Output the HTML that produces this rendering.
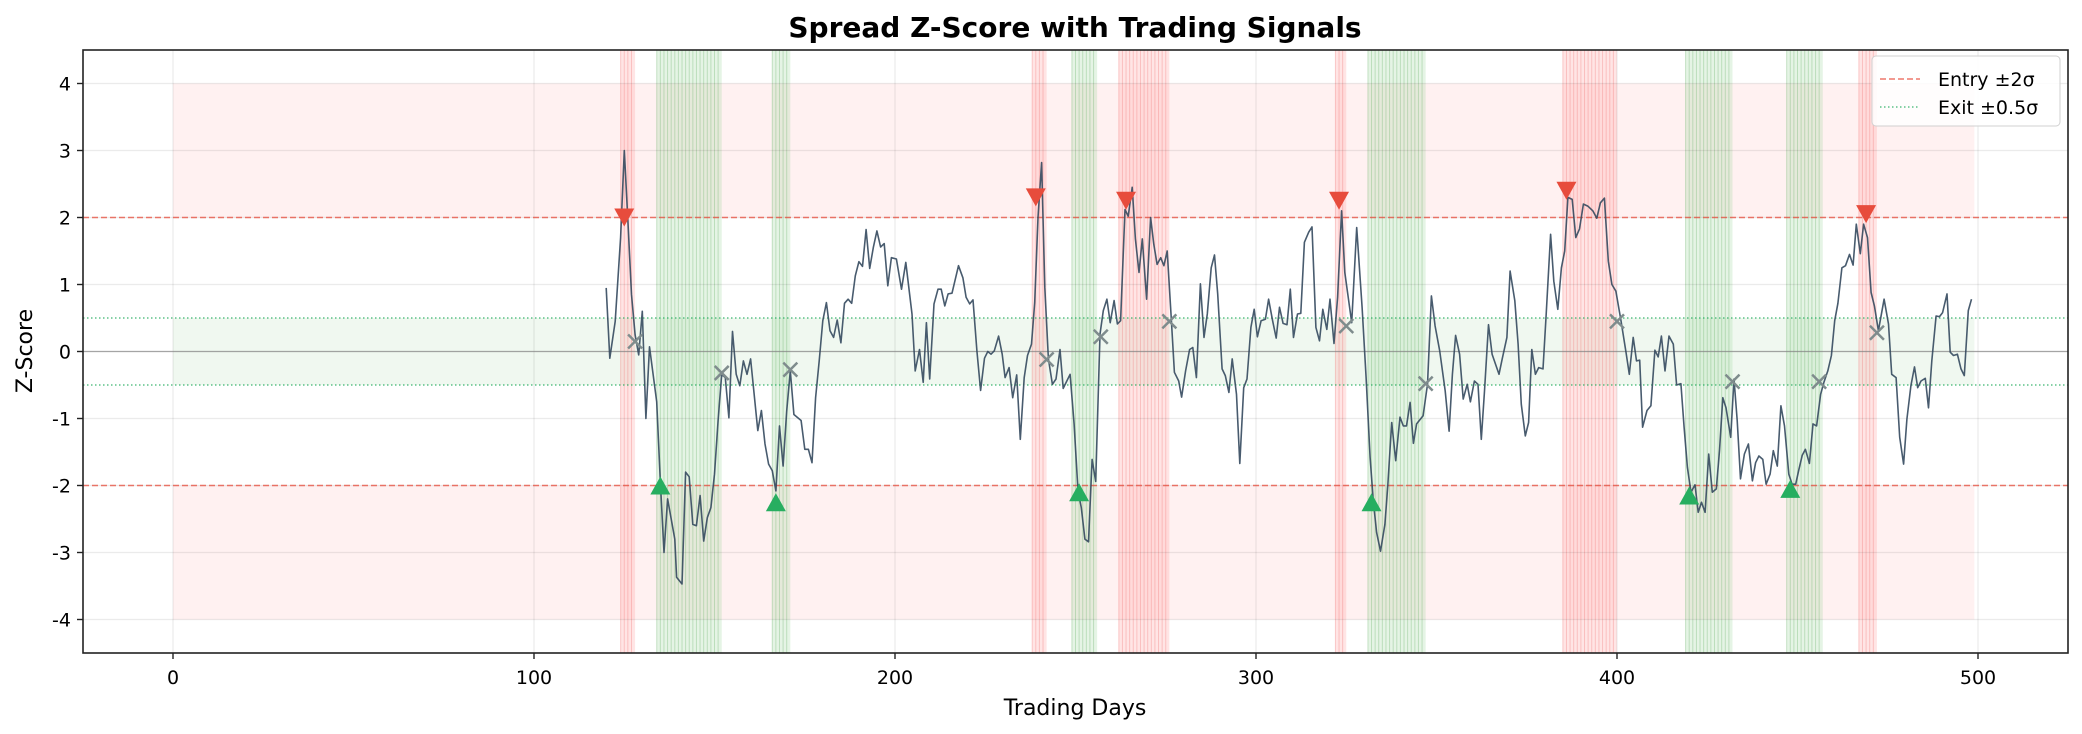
<!DOCTYPE html>
<html><head><meta charset="utf-8"><style>
html,body{margin:0;padding:0;background:#fff;}
svg{display:block;font-family:"DejaVu Sans","Liberation Sans",sans-serif;}
</style></head><body>
<svg id="chart" width="2082" height="734" viewBox="0 0 2082 734" xmlns="http://www.w3.org/2000/svg">
<rect width="2082" height="734" fill="#fff"/>
<g id="bg"></g><g id="spans"></g><g id="grid"></g><g id="refs"></g><g id="series"></g><g id="marks"></g><g id="axes"></g>
<text x="1075" y="37" text-anchor="middle" font-size="28" font-weight="bold" fill="#000">Spread Z-Score with Trading Signals</text>
<text x="1075" y="715" text-anchor="middle" font-size="22" fill="#000">Trading Days</text>
<text transform="translate(32,351) rotate(-90)" text-anchor="middle" font-size="22" fill="#000">Z-Score</text>
<g>
<rect x="1872" y="56" width="188" height="70" rx="4" fill="#fff" fill-opacity="0.85" stroke="#d0d0d0"/>
<line x1="1880" y1="79" x2="1920" y2="79" stroke="#e74c3c" stroke-opacity="0.75" stroke-width="1.5" stroke-dasharray="6,3"/>
<text x="1938" y="86" font-size="19">Entry ±2σ</text>
<line x1="1880" y1="107" x2="1920" y2="107" stroke="#27ae60" stroke-opacity="0.75" stroke-width="1.5" stroke-dasharray="1.5,2.5"/>
<text x="1938" y="114" font-size="19">Exit ±0.5σ</text>
</g>
</svg>
<script>
const days=[120,121,122.5,124,125,126,127,128,129,130,131,132,134,135,136,137,139,139.5,141,142,143,144,145,146,147,148,149,150,151,152,153,154,155,156,157,158,159,160,162,163,164,165,166,167,168,169,170,171,172,174,175,176,177,178,179,180,181,182,183,184,185,186,187,188,189,190,191,192,193,194,195,196,197,198,199,200.4,201.8,203,204.7,205.6,206.8,207.8,208.7,209.6,210.8,211.9,212.8,213.8,214.7,215.8,217.6,218.8,219.7,220.7,221.6,222.7,223.7,224.8,225.7,226.6,227.5,228.7,229.7,230.5,231.6,232.6,233.7,234.7,235.8,236.7,237.8,238.7,239.6,240.6,241.5,242.5,243.6,244.6,245.7,246.6,248.5,249.6,250.7,251.6,252.6,253.6,254.6,255.6,256.8,257.7,258.7,259.6,260.7,261.6,262.5,263.7,264.6,265.7,266.6,267.6,268.5,269.7,270.8,271.7,272.6,273.6,274.5,275.4,276.5,277.4,278.6,279.4,280.5,281.6,282.5,283.5,284.6,285.6,286.5,287.6,288.5,289.4,290.6,291.5,292.5,293.4,294.6,295.5,296.6,297.5,298.6,299.5,300.4,301.4,302.6,303.5,304.6,305.6,306.5,307.5,308.6,309.5,310.4,311.5,312.4,313.4,314.6,315.5,316.6,317.6,318.5,319.6,320.5,321.6,322.6,323.7,324.6,326.5,327.9,329.4,330.5,331.6,332.5,333.4,334.5,335.7,336.5,337.6,338.7,339.9,340.8,341.7,342.7,343.6,344.5,346.3,347.5,348.6,349.6,350.9,352.4,353.5,354.4,355.3,356.4,357.4,358.5,359.4,360.5,361.5,362.4,363.3,364.4,365.4,367.3,368.2,369.5,370.4,371.7,372.6,373.5,374.6,375.5,376.4,377.4,378.3,379.5,380.4,381.6,382.5,383.6,384.6,385.5,386.4,387.6,388.6,389.6,390.7,391.9,393.3,394.4,395.4,396.5,397.6,398.6,399.7,401.1,402.5,403.4,404.5,405.4,406.3,407.1,408.3,409.4,410.5,411.4,412.3,413.3,414.4,415.6,416.5,417.7,418.6,419.5,420.5,421.6,422.5,423.4,424.4,425.4,426.4,427.5,428.4,429.3,430.2,431.5,432.4,433.3,434.2,435.3,436.4,437.5,438.4,439.3,440.4,441.3,442.4,443.3,444.4,445.4,446.4,447.6,448.5,449.5,450.4,451.3,452.2,453.3,454.3,455.3,456.4,457.3,458.4,459.4,460.3,461.2,462.3,463.3,464.4,465.4,466.3,467.4,468.3,469.4,470.4,471.3,472.4,474,475.2,476.1,477.3,478.3,479.4,480.3,481.4,482.4,483.3,484.2,485.4,486.3,487.2,488.4,489.3,490.2,491.4,492.3,493.2,494.3,495.3,496.2,497.3,498.2];
const zscores=[0.95,-0.1,0.45,1.7,3.0,1.95,0.85,0.25,-0.05,0.6,-1.0,0.07,-0.75,-1.93,-3.0,-2.2,-2.8,-3.37,-3.47,-1.8,-1.87,-2.58,-2.6,-2.15,-2.83,-2.48,-2.33,-1.83,-1.03,-0.34,-0.39,-0.99,0.3,-0.34,-0.51,-0.14,-0.34,-0.11,-1.18,-0.88,-1.38,-1.68,-1.78,-2.08,-1.11,-1.71,-0.89,-0.29,-0.94,-1.03,-1.46,-1.46,-1.66,-0.69,-0.14,0.46,0.73,0.31,0.21,0.47,0.13,0.72,0.78,0.72,1.13,1.34,1.27,1.82,1.24,1.55,1.8,1.56,1.61,0.98,1.4,1.38,0.93,1.33,0.56,-0.29,0.03,-0.46,0.43,-0.41,0.71,0.93,0.93,0.68,0.86,0.87,1.28,1.1,0.81,0.71,0.77,0.01,-0.58,-0.1,0,-0.04,0.01,0.23,-0.04,-0.39,-0.24,-0.69,-0.35,-1.31,-0.39,-0.06,0.11,0.73,2.0,2.82,0.96,-0.11,-0.49,-0.41,0.03,-0.55,-0.34,-1.08,-2.08,-2.33,-2.8,-2.84,-1.61,-1.94,0.26,0.61,0.78,0.43,0.76,0.41,0.46,2.12,2.02,2.45,1.68,1.18,1.68,0.78,2.0,1.6,1.3,1.4,1.28,1.5,0.51,-0.31,-0.44,-0.68,-0.29,0.03,0.06,-0.39,1.01,0.21,0.56,1.25,1.44,0.86,-0.26,-0.36,-0.61,-0.11,-0.64,-1.67,-0.54,-0.41,0.36,0.63,0.22,0.46,0.48,0.78,0.46,0.2,0.66,0.42,0.4,0.93,0.21,0.56,0.57,1.63,1.78,1.86,0.36,0.16,0.63,0.33,0.78,0.12,0.81,2.1,1.18,0.43,1.85,0.66,-0.39,-1.58,-2.23,-2.7,-2.98,-2.58,-2.0,-1.06,-1.63,-0.98,-1.11,-1.11,-0.76,-1.37,-1.08,-0.96,-0.49,0.83,0.38,0.01,-0.59,-1.19,-0.34,0.24,-0.04,-0.71,-0.49,-0.75,-0.44,-0.49,-1.31,-0.59,0.4,-0.04,-0.34,-0.11,0.21,1.2,0.76,0.11,-0.79,-1.26,-1.06,0.03,-0.34,-0.24,-0.26,0.56,1.75,1.05,0.63,1.25,1.5,2.3,2.27,1.7,1.83,2.2,2.17,2.1,1.99,2.22,2.29,1.35,1.0,0.9,0.46,-0.01,-0.34,0.21,-0.14,-0.13,-1.13,-0.88,-0.81,0.02,-0.08,0.23,-0.29,0.23,0.11,-0.5,-0.48,-1.13,-1.73,-2.1,-1.99,-2.4,-2.25,-2.4,-1.53,-2.1,-2.05,-1.48,-0.69,-0.84,-1.28,-0.41,-1.03,-1.9,-1.53,-1.38,-1.93,-1.66,-1.56,-1.61,-1.98,-1.83,-1.48,-1.71,-0.81,-1.11,-1.83,-1.98,-1.98,-1.76,-1.55,-1.46,-1.67,-1.08,-1.11,-0.64,-0.46,-0.29,-0.06,0.46,0.72,1.25,1.28,1.45,1.29,1.9,1.46,1.9,1.7,0.88,0.68,0.31,0.78,0.41,-0.34,-0.39,-1.28,-1.68,-1.01,-0.51,-0.23,-0.54,-0.44,-0.4,-0.84,-0.14,0.53,0.52,0.58,0.86,-0.01,-0.06,-0.04,-0.26,-0.36,0.61,0.78,0.26];
const shortEntryDays=[125,239,264,323,386,469];
const shortEntryVals=[2.0,2.3,2.25,2.25,2.4,2.05];
const longEntryDays=[135,167,251,332,420,448];
const longEntryVals=[-2.0,-2.25,-2.1,-2.25,-2.15,-2.05];
const exitDays=[128,152,171,242,257,276,325,347,400,432,456,472];
const exitVals=[0.15,-0.32,-0.27,-0.12,0.22,0.45,0.38,-0.48,0.45,-0.45,-0.45,0.28];
const shortSpanStart=[124,238,262,322,385,467];
const shortSpanEnd=[127,241,275,324,399,471];
const longSpanStart=[134,166,249,331,419,447];
const longSpanEnd=[151,170,255,346,431,456];
const xTicks=[0,100,200,300,400,500];
const yTicks=[4,3,2,1,0,-1,-2,-3,-4];
const entryLevel=2, exitLevel=0.5;

const L=83,R=2068,T=50,B=653;
const X=d=>173+d*3.61;
const Y=v=>351.5-v*67;
const NS='http://www.w3.org/2000/svg';
function mk(tag,attrs,parent){const e=document.createElementNS(NS,tag);for(const k in attrs)e.setAttribute(k,attrs[k]);document.getElementById(parent).appendChild(e);return e;}

let e;
e=mk('rect',{x:X(0),y:Y(4),width:X(499)-X(0),height:Y(entryLevel)-Y(4),fill:'#ffeeee',opacity:0.85},'bg');


e=mk('rect',{x:X(0),y:Y(-entryLevel),width:X(499)-X(0),height:Y(-4)-Y(-entryLevel),fill:'#ffeeee',opacity:0.85},'bg');


e=mk('rect',{x:X(0),y:Y(exitLevel),width:X(499)-X(0),height:Y(-exitLevel)-Y(exitLevel),fill:'#eef7ee',opacity:0.9},'bg');



function spans(starts,ends,fill,line,name){
  for(let i=0;i<starts.length;i++){
    for(let d=starts[i];d<=ends[i];d++){
      e=mk('rect',{x:X(d),y:T,width:X(d+1)-X(d),height:B-T,fill:fill},'spans');
      
      
      mk('line',{x1:X(d),x2:X(d),y1:T,y2:B,stroke:line,'stroke-width':1},'spans');
    }
  }
}
spans(shortSpanStart,shortSpanEnd,'rgba(255,150,150,0.25)','rgba(240,120,120,0.35)','short-position-span');
spans(longSpanStart,longSpanEnd,'rgba(150,210,150,0.25)','rgba(110,180,110,0.35)','long-position-span');

xTicks.forEach(t=>{e=mk('line',{x1:X(t),x2:X(t),y1:T,y2:B,stroke:'#000','stroke-opacity':0.08,'stroke-width':1.2},'grid');});
yTicks.forEach(t=>{e=mk('line',{x1:L,x2:R,y1:Y(t),y2:Y(t),stroke:'#000','stroke-opacity':0.08,'stroke-width':1.2},'grid');});

[entryLevel,-entryLevel].forEach(v=>{e=mk('line',{x1:L,x2:R,y1:Y(v),y2:Y(v),stroke:'#e74c3c','stroke-opacity':0.75,'stroke-width':1.5,'stroke-dasharray':'6,3'},'refs');});
[exitLevel,-exitLevel].forEach(v=>{e=mk('line',{x1:L,x2:R,y1:Y(v),y2:Y(v),stroke:'#27ae60','stroke-opacity':0.75,'stroke-width':1.5,'stroke-dasharray':'1.5,2.5'},'refs');});
e=mk('line',{x1:L,x2:R,y1:Y(0),y2:Y(0),stroke:'#888','stroke-opacity':0.7,'stroke-width':1.3},'refs');



let dstr=days.map((d,i)=>(i?'L':'M')+X(d).toFixed(1)+','+Y(zscores[i]).toFixed(1)).join('');
e=mk('path',{d:dstr,fill:'none',stroke:'#34495e','stroke-opacity':0.9,'stroke-width':1.6,'stroke-linejoin':'round'},'series');



shortEntryDays.forEach((d,i)=>{const x=X(d),y=Y(shortEntryVals[i]);e=mk('polygon',{points:`${x-10},${y-9} ${x+10},${y-9} ${x},${y+9}`,fill:'#e74c3c'},'marks');});
longEntryDays.forEach((d,i)=>{const x=X(d),y=Y(longEntryVals[i]);e=mk('polygon',{points:`${x-10},${y+9} ${x+10},${y+9} ${x},${y-9}`,fill:'#27ae60'},'marks');});
exitDays.forEach((d,i)=>{const x=X(d),y=Y(exitVals[i]);e=mk('path',{d:`M${x-7},${y-7}L${x+7},${y+7}M${x-7},${y+7}L${x+7},${y-7}`,stroke:'#7f8c8d','stroke-width':2.5},'marks');});

e=mk('rect',{x:L,y:T,width:R-L,height:B-T,fill:'none',stroke:'#222','stroke-width':1.6},'axes');


xTicks.forEach(t=>{mk('line',{x1:X(t),x2:X(t),y1:B,y2:B+6,stroke:'#222','stroke-width':1.4},'axes');e=mk('text',{x:X(t),y:B+31,'text-anchor':'middle','font-size':19},'axes');e.textContent=t;});
yTicks.forEach(t=>{mk('line',{x1:L-6,x2:L,y1:Y(t),y2:Y(t),stroke:'#222','stroke-width':1.4},'axes');e=mk('text',{x:L-12,y:Y(t)+7,'text-anchor':'end','font-size':19},'axes');e.textContent=t;});
</script>
</body></html>
